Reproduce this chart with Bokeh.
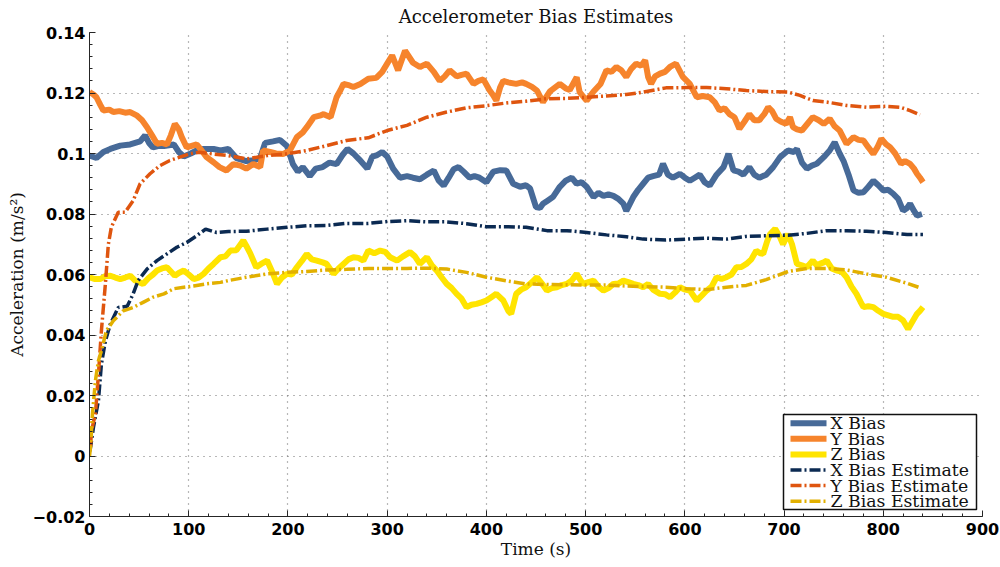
import numpy as np
from bokeh.plotting import figure
from bokeh.models import (Range1d, FixedTicker, CustomJSTickFormatter, BoxAnnotation, Label,
                          Arrow)
from bokeh.embed import file_html
from bokeh.resources import INLINE

# ---------------- data ----------------
t_xbias = [0, 7, 14, 21, 31, 41, 51, 56, 60, 64, 70, 75, 85, 90, 95, 102, 108, 115, 125, 132,
           140, 148, 158, 166, 172, 177, 185, 192, 199, 205, 210, 215, 222, 228, 235, 242, 249,
           255, 260, 266, 272, 280, 285, 290, 295, 300, 306, 313, 320, 326, 333, 340, 347, 352,
           357, 362, 367, 372, 377, 383, 388, 393, 400, 407, 414, 420, 427, 434, 440, 444, 450,
           454, 457, 462, 467, 474, 480, 486, 491, 496, 501, 508, 513, 518, 523, 528, 533, 538,
           541, 548, 553, 558, 563, 568, 574, 578, 583, 588, 595, 600, 605, 610, 615, 620, 625,
           632, 639, 644, 649, 654, 659, 665, 670, 675, 682, 689, 696, 704, 710, 713, 718, 723,
           728, 733, 740, 746, 751, 756, 760, 765, 770, 775, 780, 785, 790, 795, 800, 805, 810,
           815, 820, 824, 827, 831, 834, 839]
xbias = [0.0993, 0.0985, 0.1005, 0.1015, 0.1026, 0.1030, 0.1040, 0.1060, 0.1035, 0.1020, 0.1025,
         0.1025, 0.1030, 0.1005, 0.0990, 0.1000, 0.1010, 0.1015, 0.1015, 0.1010, 0.1015, 0.0985,
         0.0975, 0.0978, 0.0985, 0.1035, 0.1040, 0.1045, 0.1025, 0.0965, 0.0940, 0.0955, 0.0925,
         0.0950, 0.0955, 0.0970, 0.0965, 0.0995, 0.1015, 0.1000, 0.0980, 0.0950, 0.0990, 0.0995,
         0.1005, 0.0990, 0.0950, 0.0920, 0.0925, 0.0920, 0.0915, 0.0930, 0.0944, 0.0910, 0.0894,
         0.0920, 0.0948, 0.0955, 0.0940, 0.0920, 0.0925, 0.0920, 0.0905, 0.0940, 0.0945, 0.0944,
         0.0900, 0.0890, 0.0895, 0.0885, 0.0823, 0.0820, 0.0834, 0.0845, 0.0856, 0.0890, 0.0910,
         0.0920, 0.0900, 0.0905, 0.0890, 0.0856, 0.0870, 0.0860, 0.0865, 0.0860, 0.0850, 0.0834,
         0.0810, 0.0856, 0.0880, 0.0900, 0.0920, 0.0925, 0.0930, 0.0966, 0.0930, 0.0920, 0.0933,
         0.0920, 0.0910, 0.0920, 0.0930, 0.0905, 0.0894, 0.0930, 0.0955, 0.0999, 0.0944, 0.0940,
         0.0930, 0.0955, 0.0930, 0.0920, 0.0930, 0.0955, 0.0988, 0.1010, 0.1005, 0.1015, 0.0970,
         0.0950, 0.0960, 0.0966, 0.0988, 0.1010, 0.1037, 0.1000, 0.0975, 0.0930, 0.0878, 0.0870,
         0.0872, 0.0890, 0.0910, 0.0895, 0.0878, 0.0880, 0.0867, 0.0850, 0.0811, 0.0820, 0.0834,
         0.0810, 0.0795, 0.0800]

t_ybias = [0, 4, 7, 11, 14, 20, 24, 30, 36, 41, 48, 53, 58, 63, 68, 73, 78, 82, 86, 90, 93, 98,
           103, 108, 113, 118, 125, 131, 138, 145, 152, 158, 165, 172, 175, 182, 188, 195, 202,
           209, 215, 219, 226, 232, 236, 243, 249, 253, 256, 262, 266, 273, 281, 289, 295, 300,
           305, 311, 318, 326, 333, 340, 347, 353, 358, 363, 370, 375, 380, 387, 392, 397, 403,
           407, 410, 414, 417, 422, 430, 436, 440, 446, 451, 457, 464, 470, 474, 480, 484, 491,
           494, 501, 508, 515, 521, 526, 531, 536, 541, 546, 551, 556, 560, 563, 566, 570, 575,
           580, 585, 591, 598, 605, 612, 618, 625, 630, 635, 640, 645, 650, 655, 660, 665, 670,
           675, 680, 684, 688, 692, 697, 702, 706, 709, 713, 718, 724, 729, 735, 740, 746, 751,
           756, 763, 770, 775, 780, 785, 790, 794, 798, 803, 807, 812, 818, 822, 827, 831, 834,
           837, 840]
ybias = [0.1203, 0.1195, 0.1186, 0.1160, 0.1142, 0.1145, 0.1137, 0.1140, 0.1135, 0.1137, 0.1125,
         0.1110, 0.1087, 0.1060, 0.1032, 0.1035, 0.1030, 0.1060, 0.1098, 0.1080, 0.1054, 0.1020,
         0.1025, 0.1030, 0.1010, 0.0988, 0.0971, 0.0955, 0.0944, 0.0965, 0.0960, 0.0950, 0.0965,
         0.0955, 0.1010, 0.1005, 0.1000, 0.0998, 0.1010, 0.1054, 0.1070, 0.1087, 0.1120, 0.1125,
         0.1130, 0.1120, 0.1186, 0.1210, 0.1230, 0.1225, 0.1220, 0.1230, 0.1247, 0.1250, 0.1270,
         0.1297, 0.1324, 0.1275, 0.1340, 0.1300, 0.1286, 0.1297, 0.1270, 0.1240, 0.1255, 0.1275,
         0.1255, 0.1260, 0.1264, 0.1230, 0.1240, 0.1245, 0.1210, 0.1192, 0.1175, 0.1220, 0.1240,
         0.1235, 0.1230, 0.1235, 0.1230, 0.1220, 0.1208, 0.1170, 0.1205, 0.1220, 0.1230, 0.1215,
         0.1210, 0.1252, 0.1203, 0.1175, 0.1205, 0.1230, 0.1275, 0.1270, 0.1286, 0.1275, 0.1253,
         0.1280, 0.1297, 0.1290, 0.1308, 0.1253, 0.1230, 0.1255, 0.1264, 0.1270, 0.1286, 0.1297,
         0.1253, 0.1230, 0.1186, 0.1190, 0.1186, 0.1170, 0.1142, 0.1150, 0.1130, 0.1120, 0.1082,
         0.1105, 0.1130, 0.1110, 0.1110, 0.1130, 0.1153, 0.1140, 0.1115, 0.1105, 0.1098, 0.1120,
         0.1087, 0.1080, 0.1076, 0.1100, 0.1120, 0.1110, 0.1098, 0.1115, 0.1090, 0.1076, 0.1032,
         0.1054, 0.1045, 0.1043, 0.1020, 0.0999, 0.1020, 0.1049, 0.1030, 0.1020, 0.1000, 0.0966,
         0.0975, 0.0966, 0.0950, 0.0933, 0.0920, 0.0905]

t_zbias = [0, 5, 11, 16, 21, 26, 31, 36, 41, 46, 54, 60, 64, 68, 73, 78, 82, 86, 90, 95, 100,
           105, 110, 115, 120, 125, 132, 137, 142, 148, 155, 158, 162, 168, 173, 179, 184, 189,
           194, 199, 204, 209, 214, 219, 224, 229, 235, 239, 246, 251, 256, 261, 266, 271, 276,
           281, 287, 293, 298, 303, 310, 316, 323, 328, 333, 340, 345, 350, 355, 360, 365, 370,
           375, 380, 385, 390, 395, 400, 405, 410, 417, 422, 425, 430, 435, 440, 446, 451, 456,
           461, 466, 471, 476, 481, 486, 491, 495, 498, 503, 508, 513, 518, 523, 528, 533, 538,
           543, 548, 553, 558, 563, 568, 575, 580, 585, 590, 595, 600, 605, 612, 617, 622, 627,
           632, 637, 642, 647, 652, 657, 662, 667, 672, 676, 679, 683, 686, 691, 696, 699, 704,
           708, 713, 718, 723, 729, 733, 736, 740, 743, 748, 753, 758, 763, 768, 773, 777, 780,
           785, 790, 795, 800, 805, 810, 815, 820, 825, 830, 834, 837, 840]
zbias = [0.0591, 0.0585, 0.0585, 0.0595, 0.0596, 0.0590, 0.0585, 0.0590, 0.0596, 0.0580, 0.0569,
         0.0590, 0.0600, 0.0613, 0.0620, 0.0624, 0.0610, 0.0596, 0.0605, 0.0613, 0.0600, 0.0585,
         0.0590, 0.0602, 0.0620, 0.0635, 0.0657, 0.0660, 0.0679, 0.0680, 0.0712, 0.0695, 0.0670,
         0.0624, 0.0635, 0.0646, 0.0610, 0.0569, 0.0590, 0.0602, 0.0600, 0.0624, 0.0645, 0.0668,
         0.0650, 0.0646, 0.0640, 0.0635, 0.0602, 0.0620, 0.0635, 0.0650, 0.0657, 0.0655, 0.0646,
         0.0679, 0.0670, 0.0679, 0.0675, 0.0657, 0.0646, 0.0660, 0.0674, 0.0660, 0.0635, 0.0657,
         0.0630, 0.0613, 0.0590, 0.0569, 0.0555, 0.0536, 0.0520, 0.0492, 0.0500, 0.0503, 0.0508,
         0.0514, 0.0525, 0.0536, 0.0514, 0.0480, 0.0470, 0.0536, 0.0550, 0.0558, 0.0575, 0.0591,
         0.0570, 0.0547, 0.0555, 0.0558, 0.0565, 0.0569, 0.0580, 0.0602, 0.0580, 0.0569, 0.0575,
         0.0580, 0.0560, 0.0547, 0.0555, 0.0569, 0.0570, 0.0580, 0.0575, 0.0569, 0.0565, 0.0558,
         0.0569, 0.0550, 0.0536, 0.0535, 0.0525, 0.0540, 0.0558, 0.0550, 0.0547, 0.0514, 0.0530,
         0.0547, 0.0560, 0.0591, 0.0585, 0.0591, 0.0600, 0.0624, 0.0625, 0.0635, 0.0650, 0.0679,
         0.0670, 0.0668, 0.0710, 0.0734, 0.0751, 0.0723, 0.0700, 0.0734, 0.0700, 0.0635, 0.0630,
         0.0624, 0.0646, 0.0630, 0.0635, 0.0640, 0.0646, 0.0620, 0.0613, 0.0610, 0.0591, 0.0560,
         0.0536, 0.0510, 0.0492, 0.0495, 0.0492, 0.0480, 0.0470, 0.0465, 0.0460, 0.0460, 0.0448,
         0.0420, 0.0448, 0.0470, 0.0480, 0.0492]

t_xest = [0, 1, 4, 9, 12, 16, 21, 29, 38, 44, 49, 58, 68, 78, 88, 98, 108, 117, 128, 140, 158,
          179, 199, 219, 239, 259, 281, 300, 320, 340, 360, 380, 400, 422, 440, 461, 481, 501,
          521, 541, 558, 581, 602, 622, 642, 662, 682, 704, 723, 743, 763, 783, 803, 824, 840]
xest = [0.0015, 0.0028, 0.0095, 0.0183, 0.0304, 0.0380, 0.0436, 0.0491, 0.0495, 0.0536, 0.0580,
        0.0618, 0.0646, 0.0668, 0.0690, 0.0706, 0.0728, 0.0750, 0.0739, 0.0742, 0.0743, 0.0750,
        0.0756, 0.0761, 0.0762, 0.0769, 0.0769, 0.0775, 0.0778, 0.0774, 0.0774, 0.0768, 0.0758,
        0.0758, 0.0756, 0.0745, 0.0745, 0.0739, 0.0731, 0.0725, 0.0717, 0.0714, 0.0717, 0.0720,
        0.0717, 0.0726, 0.0728, 0.0730, 0.0736, 0.0745, 0.0745, 0.0743, 0.0739, 0.0732, 0.0732]

t_yest = [1, 2, 6, 9, 12, 16, 19, 22, 29, 36, 44, 51, 61, 71, 81, 91, 101, 111, 125, 140, 158,
          179, 199, 219, 239, 259, 281, 300, 320, 340, 360, 380, 400, 422, 440, 461, 481, 501,
          521, 541, 558, 581, 602, 622, 642, 662, 682, 704, 716, 729, 743, 763, 783, 803, 817,
          827, 837]
yest = [0.0030, 0.0084, 0.0140, 0.0270, 0.0414, 0.0569, 0.0700, 0.0756, 0.0806, 0.0806, 0.0844,
        0.0900, 0.0933, 0.0960, 0.0977, 0.0988, 0.0999, 0.1004, 0.0998, 0.0993, 0.0982, 0.0993,
        0.0999, 0.1010, 0.1026, 0.1043, 0.1052, 0.1076, 0.1093, 0.1120, 0.1137, 0.1151, 0.1158,
        0.1168, 0.1173, 0.1181, 0.1182, 0.1186, 0.1190, 0.1195, 0.1203, 0.1217, 0.1218, 0.1218,
        0.1214, 0.1208, 0.1205, 0.1203, 0.1192, 0.1175, 0.1170, 0.1159, 0.1153, 0.1156, 0.1153,
        0.1142, 0.1128]

t_zest = [0, 1, 2, 3, 6, 9, 12, 17, 24, 34, 44, 54, 64, 75, 85, 95, 105, 118, 132, 140, 158,
          179, 199, 219, 239, 259, 281, 300, 320, 340, 360, 380, 400, 422, 440, 461, 481, 501,
          521, 541, 558, 581, 602, 622, 642, 662, 682, 704, 723, 743, 763, 783, 803, 824, 837]
zest = [0.0000, 0.0028, 0.0084, 0.0140, 0.0250, 0.0315, 0.0348, 0.0414, 0.0447, 0.0480, 0.0491,
        0.0508, 0.0525, 0.0536, 0.0553, 0.0558, 0.0562, 0.0569, 0.0574, 0.0580, 0.0591, 0.0602,
        0.0607, 0.0610, 0.0615, 0.0617, 0.0620, 0.0620, 0.0620, 0.0621, 0.0618, 0.0607, 0.0591,
        0.0578, 0.0569, 0.0567, 0.0566, 0.0565, 0.0565, 0.0562, 0.0560, 0.0558, 0.0553, 0.0550,
        0.0558, 0.0564, 0.0583, 0.0610, 0.0620, 0.0620, 0.0615, 0.0602, 0.0591, 0.0571, 0.0556]

series_names = ["X Bias", "Y Bias", "Z Bias", "X Bias Estimate", "Y Bias Estimate",
                "Z Bias Estimate"]
chart_title = "Accelerometer Bias Estimates"
x_ticks = [0, 100, 200, 300, 400, 500, 600, 700, 800, 900]
y_ticks = [-0.02, 0.0, 0.02, 0.04, 0.06, 0.08, 0.10, 0.12, 0.14]

# ---------------- figure ----------------
SERIF = "DejaVu Serif"
FRAME_L, FRAME_R, FRAME_T, FRAME_B = 89, 982, 32, 516

p = figure(width=1000, height=567, output_backend="svg", toolbar_location=None,
           x_range=Range1d(0, 900), y_range=Range1d(-0.02, 0.14),
           min_border_left=FRAME_L, min_border_right=1000 - FRAME_R,
           min_border_top=FRAME_T, min_border_bottom=567 - FRAME_B,
           title=chart_title)
p.outline_line_color = None
p.background_fill_color = "white"
p.border_fill_color = "white"

p.title.align = "center"
p.title.vertical_align = "top"
p.title.text_font = SERIF
p.title.text_font_style = "normal"
p.title.text_font_size = "18px"
p.title.text_color = "#111111"
p.title.standoff = 8

# series styles
styles = [
    dict(color="#476A98", line_width=6, line_dash="solid"),
    dict(color="#F6842C", line_width=6, line_dash="solid"),
    dict(color="#FFE400", line_width=6, line_dash="solid"),
    dict(color="#0B2A52", line_width=3.5, line_dash="11 3 2 3"),
    dict(color="#DF550F", line_width=3.5, line_dash="11 3 2 3"),
    dict(color="#E2B000", line_width=3.5, line_dash="11 3 2 3"),
]
series = [(t_xbias, xbias), (t_ybias, ybias), (t_zbias, zbias),
          (t_xest, xest), (t_yest, yest), (t_zest, zest)]
for (tt, vv), st in zip(series, styles):
    p.line(tt, vv, **st)

# axes
p.xaxis.ticker = FixedTicker(ticks=x_ticks, minor_ticks=list(range(0, 901, 20)))
ymin = [round(-0.02 + 0.004 * i, 4) for i in range(41)]
p.yaxis.ticker = FixedTicker(ticks=y_ticks, minor_ticks=ymin)
p.yaxis.formatter = CustomJSTickFormatter(code="""
const v = Math.round(tick*100)/100;
if (Math.abs(v) < 1e-9) return "0";
const s = String(Math.abs(v));
return (v < 0 ? "\\u2212" : "") + s;
""")

for ax in (p.xaxis[0], p.yaxis[0]):
    ax.axis_line_color = "#262626"
    ax.axis_line_width = 1
    ax.major_tick_in = 6
    ax.major_tick_out = 0
    ax.minor_tick_in = 3
    ax.minor_tick_out = 0
    ax.major_tick_line_color = "#262626"
    ax.minor_tick_line_color = "#262626"
    ax.major_label_text_font = "DejaVu Sans"
    ax.major_label_text_font_style = "bold"
    ax.major_label_text_font_size = "16px"
    ax.major_label_text_color = "#000000"
    ax.axis_label_text_font = SERIF
    ax.axis_label_text_font_style = "normal"
    ax.axis_label_text_font_size = "17px"
    ax.axis_label_text_color = "#111111"

p.xaxis.axis_label = "Time (s)"
p.yaxis.axis_label = "Acceleration (m/s\u00b2)"
p.xaxis.major_label_standoff = 6
p.yaxis.major_label_standoff = 4
p.xaxis.axis_label_standoff = 1
p.yaxis.axis_label_standoff = 3

# grid
for g in (p.xgrid[0], p.ygrid[0]):
    g.grid_line_color = "#707070"
    g.grid_line_dash = "1 5"
    g.grid_line_width = 1.2
p.xgrid.ticker = FixedTicker(ticks=x_ticks)
p.ygrid.ticker = FixedTicker(ticks=y_ticks)

# legend (compact, MATLAB-like), positioned in screen units relative to the plot frame
box = BoxAnnotation(left=694, right=887, bottom=7, top=102,
                    left_units="screen", right_units="screen",
                    bottom_units="screen", top_units="screen",
                    fill_color="white", fill_alpha=1.0,
                    line_color="#111111", line_width=1.5, line_alpha=1.0)
p.add_layout(box)
row_y0 = 93.3
row_dy = 15.6
for i, (name, st) in enumerate(zip(series_names, styles)):
    yy = row_y0 - i * row_dy
    p.add_layout(Arrow(start=None, end=None, x_start=701, y_start=yy, x_end=737, y_end=yy,
                       start_units="screen", end_units="screen",
                       line_color=st["color"], line_width=st["line_width"],
                       line_dash=st["line_dash"]))
    p.add_layout(Label(x=741, y=yy, x_units="screen", y_units="screen", text=name,
                       text_baseline="middle", text_align="left",
                       text_font=SERIF, text_font_size="17.3px", text_color="#111111"))

open("out.html", "w").write(file_html(p, INLINE))
